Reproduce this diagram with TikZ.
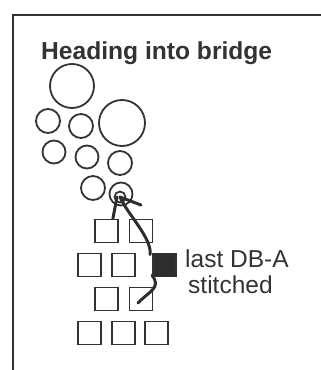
\documentclass[tikz,border=0pt]{standalone}
\usepackage{fontspec}
\setmainfont{Liberation Sans}
\usetikzlibrary{calc}
\begin{document}
\begin{tikzpicture}[x=1pt,y=-1pt,
  ink/.style={draw=black!80,line width=1.8pt},
  bead/.style={ink,circle,inner sep=0pt},
  sq/.style={ink,rectangle,inner sep=0pt,minimum size=23pt},
  thread/.style={draw=black!82,line width=3pt,line cap=round,line join=round}]
\useasboundingbox (0,0) rectangle (321,370);
% frame
\coordinate (ftr) at (321,15);
\coordinate (ftl) at (13,15);
\coordinate (fbl) at (13,370);
\draw[ink] (ftr) -- (ftl) -- (fbl);
% heading
\node[anchor=base west,inner sep=0pt,font=\fontsize{24.6}{28}\selectfont\bfseries,text=black!80] (head) at (41,59) {Heading into bridge};
% beads
\node[bead,minimum size=44pt] (b1) at (72,86) {};
\node[bead,minimum size=24pt] (b2) at (48,121) {};
\node[bead,minimum size=24pt] (b3) at (81,126) {};
\node[bead,minimum size=46pt] (b4) at (122,123) {};
\node[bead,minimum size=23pt] (b5) at (54,152) {};
\node[bead,minimum size=23pt] (b6) at (87,157) {};
\node[bead,minimum size=24pt] (b7) at (120,163) {};
\node[bead,minimum size=24pt] (b8) at (93,188) {};
\node[bead,minimum size=23pt] (b9) at (121,194) {};
\node[bead,minimum size=11pt] (b9i) at (120,197) {};
% squares
\node[sq] (s11) at (106.5,231) {};
\node[sq] (s12) at (141,231) {};
\node[sq] (s21) at (89.5,265) {};
\node[sq] (s22) at (123.5,265) {};
\node[sq,fill=black!82] (s23) at (164.5,265) {};
\node[sq] (s31) at (106.5,299) {};
\node[sq] (s32) at (141,299) {};
\node[sq] (s41) at (89.5,333) {};
\node[sq] (s42) at (123.5,333) {};
\node[sq] (s43) at (156.5,333) {};
% thread
\coordinate (tEnd) at (141,205);
\coordinate (tLow) at (138,303);
\coordinate (tIn) at ($(s11.north east)+(-6,0)$);
\coordinate (tTop) at ($(b9i.center)+(-3,0)$);
\draw[thread] (tIn) -- (tTop);
\draw[thread] (b9i.center) -- (tEnd);
\draw[thread] (b9i.center) .. controls (128,215) and (152,238) .. ($(s23.north west)+(-2,2)$);
\draw[thread] ($(s23.south west)+(0,-2)$) .. controls (162,288) and (148,292) .. (tLow);
% label
\node[anchor=base west,inner sep=0pt,font=\fontsize{24.5}{28}\selectfont,text=black!80] (lab) at (185,267) {last DB-A};
\node[anchor=base west,inner sep=0pt,font=\fontsize{24.5}{28}\selectfont,text=black!80] (lab2) at (188,293) {stitched};
\end{tikzpicture}
\end{document}
